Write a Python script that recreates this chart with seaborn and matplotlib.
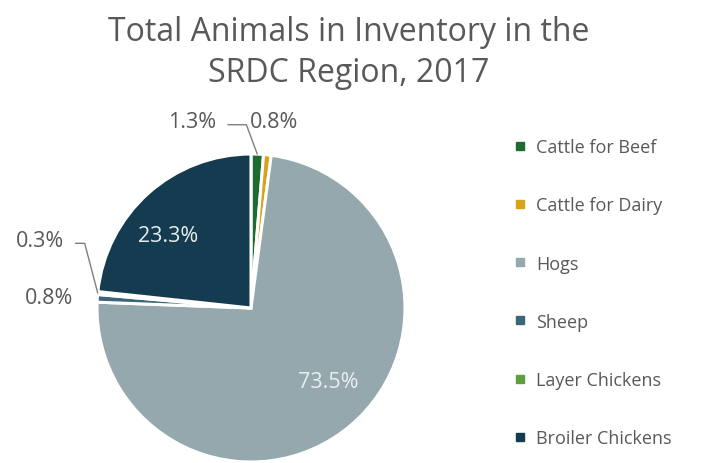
import matplotlib
matplotlib.use("Agg")
import matplotlib.pyplot as plt
from matplotlib.lines import Line2D
import numpy as np
import seaborn as sns

categories = ["Cattle for Beef", "Cattle for Dairy", "Hogs", "Sheep",
              "Layer Chickens", "Broiler Chickens"]
shares = [1.3, 0.8, 73.5, 0.8, 0.3, 23.3]
colors = ["#1f6b2f", "#d9a21b", "#94a8ae", "#3c6579", "#5c9f3c", "#143b50"]

sns.set_theme(style="white")
plt.rcParams["font.family"] = ["Open Sans", "DejaVu Sans"]
palette = sns.color_palette(colors)

fig = plt.figure(figsize=(7.2, 4.64), dpi=100)
ax = fig.add_axes([251 / 720 - 154 / 720, 1 / 464, 308 / 720, 308 / 464])

wedges, _ = ax.pie(shares, colors=palette, startangle=90, counterclock=False,
                   radius=1.0, wedgeprops=dict(edgecolor="white", linewidth=2.2))
ax.set_xlim(-1, 1)
ax.set_ylim(-1, 1)
ax.set_aspect("auto")
ax.axis("off")

grey = "#595959"
light = "#e9eef0"

def mid_point(w, r=1.0):
    a = np.deg2rad((w.theta1 + w.theta2) / 2)
    return r * np.cos(a), r * np.sin(a)

# label placement: (text x, text y, colour, leader elbow or None)
place = {
    0: (-0.38, 1.21, grey, (-0.03, 1.19)),
    1: (0.15, 1.21, grey, None),
    2: (0.50, -0.48, light, None),
    3: (-1.31, 0.07, grey, None),
    4: (-1.37, 0.44, grey, (-1.08, 0.42)),
    5: (-0.54, 0.47, light, None),
}
for i, (w, v) in enumerate(zip(wedges, shares)):
    tx, ty, c, elbow = place[i]
    ax.text(tx, ty, f"{v:.1f}%", ha="center", va="center", fontsize=15.5,
            color=c, clip_on=False)
    if elbow is not None:
        mx, my = mid_point(w)
        start_x = tx + 0.23
        ax.plot([start_x, elbow[0], mx], [elbow[1], elbow[1], my],
                color="#7f7f7f", linewidth=1, clip_on=False)

fig.text(0.484, 0.886, "Total Animals in Inventory in the\nSRDC Region, 2017",
         ha="center", va="center", fontsize=23, color=grey, linespacing=1.35)

handles = [Line2D([], [], marker="s", linestyle="none", markersize=6,
                  markerfacecolor=c, markeredgecolor=c) for c in palette]
fig.legend(handles, categories, loc="upper left", bbox_to_anchor=(0.705, 0.716),
           frameon=False, fontsize=13, labelcolor=grey, handlelength=0.6,
           handletextpad=0.6, labelspacing=2.23, borderaxespad=0)

fig.savefig("out.png", dpi=100)
